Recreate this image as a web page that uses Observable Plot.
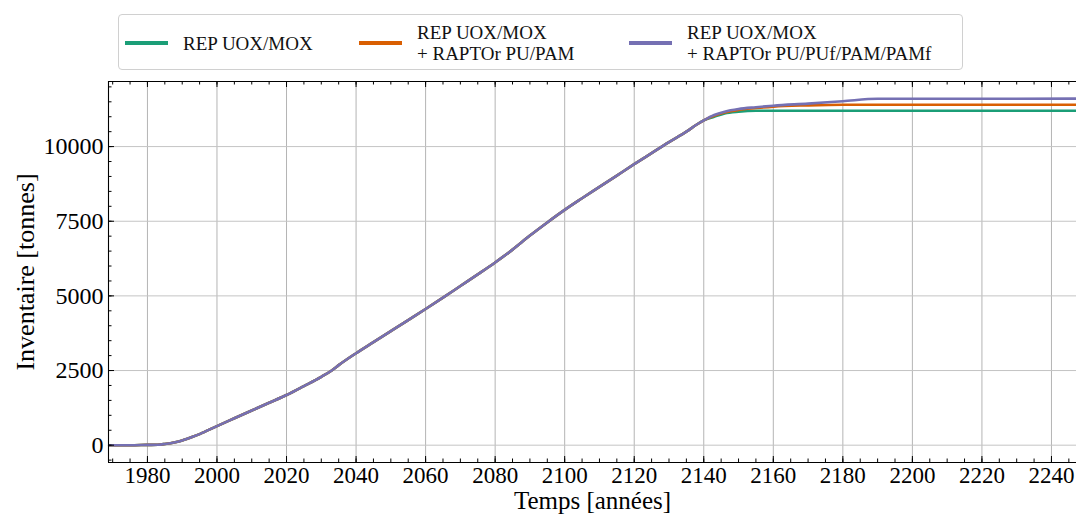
<!DOCTYPE html>
<html>
<head>
<meta charset="utf-8">
<script src="https://cdn.jsdelivr.net/npm/d3@7"></script>
<script src="https://cdn.jsdelivr.net/npm/@observablehq/plot@0.6"></script>
<style>
  html, body { margin: 0; padding: 0; background: #fff; }
  #wrap { position: relative; width: 1076px; height: 519px; overflow: hidden; font-family: "Liberation Serif", "DejaVu Serif", serif; }
  #chart svg, #chart svg text { font-family: "Liberation Serif", "DejaVu Serif", serif !important; }
  #legend { position: absolute; left: 118px; top: 14px; width: 845px; height: 56px; border: 1px solid #d0d0d0; border-radius: 4px; box-sizing: border-box; background: #fff; font-size: 19px; color: #111; }
  .item { position: absolute; top: 0; height: 56px; display: flex; align-items: center; }
  .sw { width: 43px; height: 4px; margin-right: 15px; }
  .lab { line-height: 21px; }
</style>
</head>
<body>
<div id="wrap">
  <div id="chart"></div>
  <div id="legend"></div>
</div>
<script>
// ---- data ----
const years = [1969,1975,1980,1983,1985,1988,1990,1993,1995,2000,2005,2010,2015,2020,2025,2030,2033,2035,2040,2045,2050,2055,2060,2065,2070,2075,2080,2085,2090,2095,2100,2105,2110,2115,2120,2125,2130,2135,2138,2140,2143,2146,2150,2155,2160,2170,2180,2190,2200,2247];
const common = [0,0,10,15,40,100,160,280,370,640,900,1160,1420,1680,1980,2290,2500,2680,3080,3450,3820,4190,4560,4940,5330,5720,6120,6550,7020,7460,7880,8270,8650,9030,9410,9780,10150,10500,10740,10880];
const tailGreen  = [11000,11110,11170,11200,11200,11200,11200,11200,11200,11200];
const tailOrange = [11030,11140,11230,11290,11340,11380,11400,11400,11400,11400];
const tailPurple = [11060,11170,11260,11320,11370,11440,11520,11600,11600,11605];
const seriesNames = ["REP UOX/MOX", "REP UOX/MOX\n+ RAPTOr PU/PAM", "REP UOX/MOX\n+ RAPTOr PU/PUf/PAM/PAMf"];
const seriesColors = ["#1b9e77", "#d95f02", "#7570b3"];
const xMajor = [1980,2000,2020,2040,2060,2080,2100,2120,2140,2160,2180,2200,2220,2240];
const xMinor = d3.range(1970, 2250, 5);
const yMajor = [0,2500,5000,7500,10000];
const yMinor = d3.range(-500, 12001, 500);
const xDomain = [1968.8, 2247.2];
const yDomain = [-580, 12180];

const tails = [tailGreen, tailOrange, tailPurple];
const data = [];
seriesNames.forEach((name, i) => {
  const vals = common.concat(tails[i]);
  years.forEach((y, j) => data.push({series: name, year: y, value: vals[j], order: i}));
});

const W = 1076, H = 519;
const mL = 108, mR = 0, mT = 81, mB = 57;
const innerW = W - mL - mR, innerH = H - mT - mB;

const chart = Plot.plot({
  width: W, height: H,
  marginLeft: mL, marginRight: mR, marginTop: mT, marginBottom: mB,
  style: {fontFamily: "'Liberation Serif', 'DejaVu Serif', serif", background: "#fff", color: "#000"},
  x: {domain: xDomain},
  y: {domain: yDomain},
  marks: [
    Plot.ruleX(xMajor, {x: d => d, stroke: "#b4b4b4", strokeWidth: 1}),
    Plot.ruleY(yMajor, {y: d => d, stroke: "#c4c4c4", strokeWidth: 1}),
    ...seriesNames.map((name, i) => Plot.line(data.filter(d => d.series === name), {
      x: "year", y: "value", stroke: seriesColors[i], strokeWidth: 2.6, curve: "monotone-x"
    })),
    // spines
    Plot.ruleX([xDomain[0]], {x: d => d, stroke: "#000", strokeWidth: 1.1}),
    Plot.ruleY([yDomain[0]], {y: d => d, stroke: "#000", strokeWidth: 1.1}),
    Plot.ruleY([yDomain[1]], {y: d => d, stroke: "#000", strokeWidth: 1.1}),
    // inward ticks bottom
    Plot.tickX(xMajor, {x: d => d, stroke: "#000", insetTop: innerH - 6}),
    Plot.tickX(xMinor, {x: d => d, stroke: "#000", insetTop: innerH - 3.5}),
    // top
    Plot.tickX(xMajor, {x: d => d, stroke: "#000", insetBottom: innerH - 6}),
    Plot.tickX(xMinor, {x: d => d, stroke: "#000", insetBottom: innerH - 3.5}),
    // left
    Plot.tickY(yMajor, {y: d => d, stroke: "#000", insetRight: innerW - 6}),
    Plot.tickY(yMinor, {y: d => d, stroke: "#000", insetRight: innerW - 3.5}),
    // tick labels
    Plot.axisX(xMajor, {tickSize: 0, tickPadding: 4, fontSize: 23, label: null, tickFormat: d => String(d)}),
    Plot.axisY(yMajor, {tickSize: 0, tickPadding: 5, fontSize: 24, label: null, tickFormat: d => String(d)}),
    // axis titles
    Plot.text(["Temps [années]"], {frameAnchor: "bottom", dy: 46, text: d => d, fontSize: 25, fill: "#000"}),
    Plot.text(["Inventaire [tonnes]"], {frameAnchor: "left", textAnchor: "middle", dx: -83, rotate: -90, text: d => d, fontSize: 26, fill: "#000"})
  ]
});
document.getElementById("chart").appendChild(chart);

// legend
const legend = document.getElementById("legend");
const lefts = [6, 240, 510];
seriesNames.forEach((name, i) => {
  const it = document.createElement("div");
  it.className = "item";
  it.style.left = lefts[i] + "px";
  const sw = document.createElement("div");
  sw.className = "sw";
  sw.style.background = seriesColors[i];
  const lab = document.createElement("div");
  lab.className = "lab";
  lab.innerHTML = name.split("\n").join("<br>");
  it.appendChild(sw); it.appendChild(lab);
  legend.appendChild(it);
});
</script>
</body>
</html>
